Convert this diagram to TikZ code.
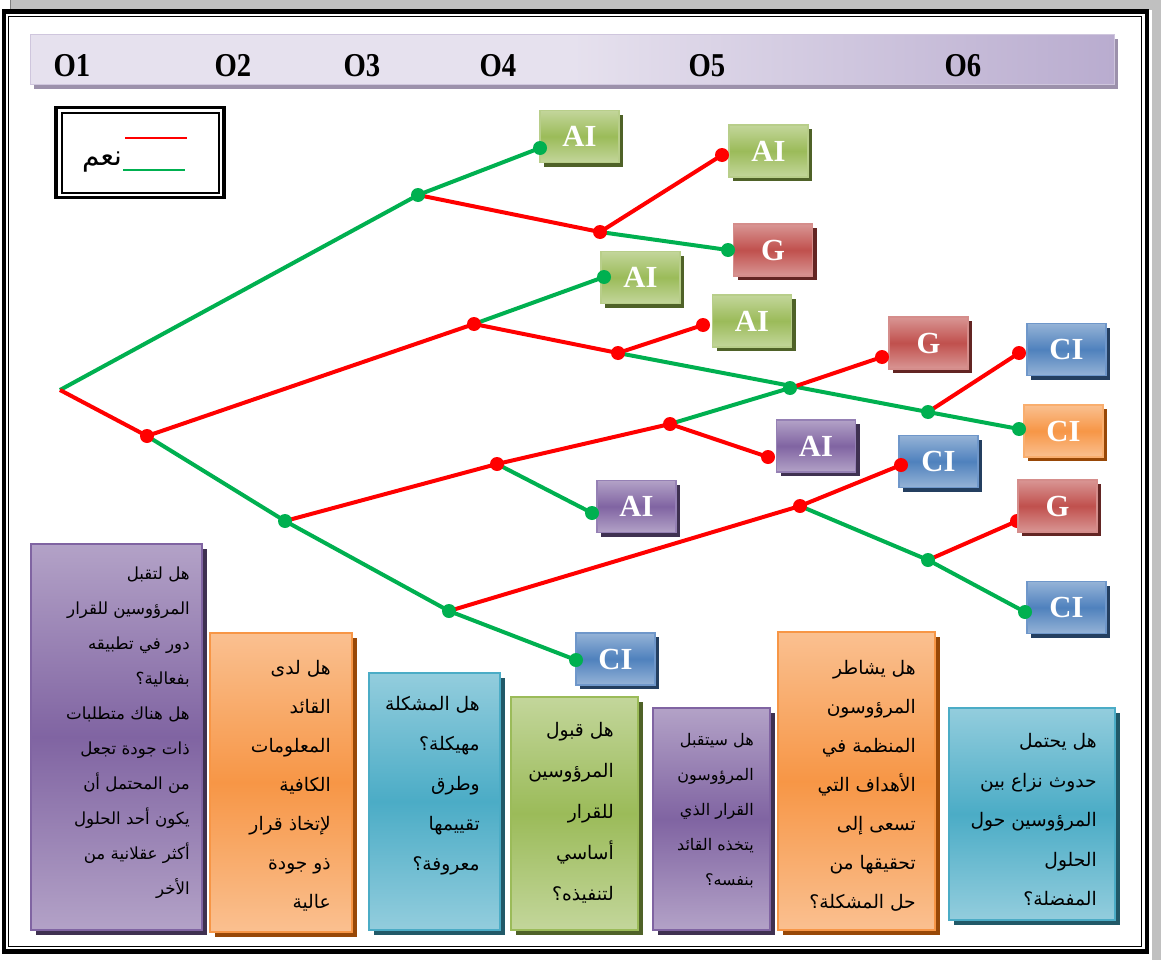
\documentclass[tikz,border=0pt]{standalone}
\usepackage{fontspec}
\setmainfont{Liberation Serif}
\newfontfamily\arabicfont[Script=Arabic]{DejaVu Sans}
\TeXXeTstate=1
\usetikzlibrary{shadows}

% one right-to-left line of a question box
\newcommand\rtlline[1]{\strut\beginR #1\endR}

\definecolor{lgT}{HTML}{C3D69B}\definecolor{lgM}{HTML}{9BBB59}\definecolor{lgB}{HTML}{B8CE8A}\definecolor{lgS}{HTML}{4F6228}
\definecolor{rdT}{HTML}{D99694}\definecolor{rdM}{HTML}{C0504D}\definecolor{rdB}{HTML}{D58D8B}\definecolor{rdS}{HTML}{632523}
\definecolor{blT}{HTML}{95B3D7}\definecolor{blM}{HTML}{4F81BD}\definecolor{blB}{HTML}{6F97CA}\definecolor{blS}{HTML}{243F60}
\definecolor{orT}{HTML}{FAC090}\definecolor{orM}{HTML}{F79646}\definecolor{orB}{HTML}{F9AE6E}\definecolor{orS}{HTML}{984807}
\definecolor{puT}{HTML}{B3A2C7}\definecolor{puM}{HTML}{8064A2}\definecolor{puB}{HTML}{9580B4}\definecolor{puS}{HTML}{3F3151}
\definecolor{aqT}{HTML}{93CDDD}\definecolor{aqM}{HTML}{4BACC6}\definecolor{aqS}{HTML}{215968}
\definecolor{noRed}{HTML}{FF0000}\definecolor{yesGreen}{HTML}{00B050}
\definecolor{barA}{HTML}{E6E1EE}\definecolor{barB}{HTML}{B9ACCF}\definecolor{barS}{HTML}{9C91AB}\definecolor{barE}{HTML}{CFC6DD}
\definecolor{pageGray}{HTML}{C0C0C0}

\begin{document}
\begin{tikzpicture}[x=0.75pt,y=-0.75pt,
  leaf/.style={rectangle, inner sep=0pt, minimum width=59.25pt, minimum height=39pt,
    line width=1.1pt, text=white, font=\fontsize{23}{23}\selectfont\bfseries},
  leafgreen/.style={leaf, draw=lgB, top color=lgT, bottom color=lgT, middle color=lgM,
    general shadow={fill=lgS, shadow xshift=3pt, shadow yshift=-3pt}},
  leafred/.style={leaf, draw=rdB, top color=rdT, bottom color=rdT, middle color=rdM,
    general shadow={fill=rdS, shadow xshift=3pt, shadow yshift=-3pt}},
  leafblue/.style={leaf, draw=blB, top color=blT, bottom color=blT, middle color=blM,
    general shadow={fill=blS, shadow xshift=3pt, shadow yshift=-3pt}},
  leaforange/.style={leaf, draw=orB, top color=orT, bottom color=orT, middle color=orM,
    general shadow={fill=orS, shadow xshift=3pt, shadow yshift=-3pt}},
  leafpurple/.style={leaf, draw=puB, top color=puT, bottom color=puT, middle color=puM,
    general shadow={fill=puS, shadow xshift=3pt, shadow yshift=-3pt}},
  qbox/.style={rectangle, inner sep=0pt, line width=1.5pt},
  qpurple/.style={qbox, draw=puM, top color=puT, bottom color=puT, middle color=puM,
    general shadow={fill=puS, shadow xshift=3.5pt, shadow yshift=-3.5pt}},
  qorange/.style={qbox, draw=orM, top color=orT, bottom color=orT, middle color=orM,
    general shadow={fill=orS, shadow xshift=3.5pt, shadow yshift=-3.5pt}},
  qaqua/.style={qbox, draw=aqM, top color=aqT, bottom color=aqT, middle color=aqM,
    general shadow={fill=aqS, shadow xshift=3.5pt, shadow yshift=-3.5pt}},
  qgreen/.style={qbox, draw=lgM, top color=lgT, bottom color=lgT, middle color=lgM,
    general shadow={fill=lgS, shadow xshift=3.5pt, shadow yshift=-3.5pt}},
  qtext/.style={anchor=north east, inner sep=0pt, align=right, text=black},
  hdr/.style={inner sep=0pt, font=\fontsize{25}{25}\selectfont\bfseries},
  noline/.style={draw=noRed, line width=3pt},
  yesline/.style={draw=yesGreen, line width=3pt},
  nodot/.style={circle, fill=noRed, inner sep=0pt, minimum size=10.5pt},
  yesdot/.style={circle, fill=yesGreen, inner sep=0pt, minimum size=10.5pt}]

\useasboundingbox (0,0) rectangle (1161,960);

% page surround
\fill[pageGray] (10,0) rectangle (1161,10);
\fill[pageGray] (1152,0) rectangle (1161,960);
\draw[gray, line width=0.75pt] (10,0) -- (10,10);

% page border: thick outer line, thin inner line
\draw[line width=3.6pt] (4,11.5) rectangle (1147,951.5);
\draw[line width=0.8pt] (8.5,16.5) rectangle (1141.5,946.5);

% header bar with the question labels
\node[rectangle, inner sep=0pt, minimum width=813pt, minimum height=37.5pt,
  draw=barE, line width=0.6pt, left color=barA, right color=barB, middle color=barA,
  general shadow={fill=barS, shadow xshift=3pt, shadow yshift=-4pt}] (bar) at (572,59) {};
\node[hdr] (h1) at (72,66) {\scalebox{0.86}[1]{O1}};
\node[hdr] (h2) at (233,66) {\scalebox{0.86}[1]{O2}};
\node[hdr] (h3) at (362,66) {\scalebox{0.86}[1]{O3}};
\node[hdr] (h4) at (498,66) {\scalebox{0.86}[1]{O4}};
\node[hdr] (h5) at (707,66) {\scalebox{0.86}[1]{O5}};
\node[hdr] (h6) at (963,66) {\scalebox{0.86}[1]{O6}};

% legend
\node[rectangle, draw, line width=2.4pt, minimum width=126pt, minimum height=68pt, inner sep=0pt] (leg) at (140,152.5) {};
\node[rectangle, draw, line width=1.1pt, minimum width=117.75pt, minimum height=60pt, inner sep=0pt] (leginner) at (140.5,153) {};
\coordinate (lrA) at (125,138); \coordinate (lrB) at (187,138);
\coordinate (lgA) at (123,170); \coordinate (lgB) at (185,170);
\draw[noline, line width=2.2pt] (lrA) -- (lrB);
\draw[yesline, line width=2.2pt] (lgA) -- (lgB);
\node[inner sep=0pt, font=\arabicfont\fontsize{21}{21}\selectfont] (yeslbl) at (102,162) {\beginR نعم\endR};

% decision points of the tree
\coordinate (root) at (60,390);
\coordinate (d1) at (418,195);
\coordinate (d2) at (147,436);
\coordinate (d3) at (600,232);
\coordinate (d4) at (474,324);
\coordinate (d5) at (618,353);
\coordinate (d6) at (285,521);
\coordinate (d7) at (497,464);
\coordinate (d8) at (670,424);
\coordinate (d9) at (790,388);
\coordinate (d10) at (928,412);
\coordinate (d11) at (449,611);
\coordinate (d12) at (800,506);
\coordinate (d13) at (928,560);
% end points at the outcome boxes
\coordinate (eAIa) at (540,148);
\coordinate (eAIb) at (722,155);
\coordinate (eGa) at (728,250);
\coordinate (eAIc) at (604,277);
\coordinate (eAId) at (703,325);
\coordinate (eGb) at (882,357);
\coordinate (eCIa) at (1019,353);
\coordinate (eCIb) at (1019,429);
\coordinate (eAIe) at (768,457);
\coordinate (eAIf) at (592,513);
\coordinate (eCIc) at (901,465);
\coordinate (eGc) at (1017,521);
\coordinate (eCId) at (1025,612);
\coordinate (eCIe) at (576,660);

% branches: green = yes, red = no
\draw[yesline] (root) -- (d1);
\draw[noline] (root) -- (d2);
\draw[yesline] (d1) -- (eAIa);
\draw[noline] (d1) -- (d3);
\draw[noline] (d3) -- (eAIb);
\draw[yesline] (d3) -- (eGa);
\draw[noline] (d2) -- (d4);
\draw[yesline] (d2) -- (d6);
\draw[yesline] (d4) -- (eAIc);
\draw[noline] (d4) -- (d5);
\draw[noline] (d5) -- (eAId);
\draw[yesline] (d5) -- (d10);
\draw[noline] (d6) -- (d7);
\draw[yesline] (d6) -- (d11);
\draw[noline] (d7) -- (d8);
\draw[yesline] (d7) -- (eAIf);
\draw[yesline] (d8) -- (d9);
\draw[noline] (d8) -- (eAIe);
\draw[noline] (d9) -- (eGb);
\draw[noline] (d10) -- (eCIa);
\draw[yesline] (d10) -- (eCIb);
\draw[noline] (d11) -- (d12);
\draw[yesline] (d11) -- (eCIe);
\draw[noline] (d12) -- (eCIc);
\draw[yesline] (d12) -- (d13);
\draw[noline] (d13) -- (eGc);
\draw[yesline] (d13) -- (eCId);

% this end dot sits behind its box
\node[nodot] (pGc) at (eGc) {};

% outcome boxes
\node[leafgreen] (AIa) at (579.5,136.5) {AI};
\node[leafgreen] (AIb) at (768.5,151) {AI};
\node[leafred] (Ga) at (773,250) {G};
\node[leafgreen] (AIc) at (640.5,277.5) {AI};
\node[leafgreen] (AId) at (752,321) {AI};
\node[leafred] (Gb) at (928.5,343) {G};
\node[leafblue] (CIa) at (1066.5,349.5) {CI};
\node[leaforange] (CIb) at (1063.5,431) {CI};
\node[leafpurple] (AIe) at (816,446) {AI};
\node[leafblue] (CIc) at (938.5,461.5) {CI};
\node[leafpurple] (AIf) at (636.5,506.5) {AI};
\node[leafred] (Gc) at (1057.5,506) {G};
\node[leafblue] (CId) at (1066.5,607.5) {CI};
\node[leafblue] (CIe) at (615.5,659) {CI};

% dots
\foreach \p in {d2,d3,d4,d5,d7,d8,d12,eAIb,eAId,eGb,eCIa,eAIe,eCIc}
  \node[nodot] (p\p) at (\p) {};
\foreach \p in {d1,d6,d9,d10,d11,d13,eAIa,eGa,eAIc,eCIb,eAIf,eCId,eCIe}
  \node[yesdot] (p\p) at (\p) {};

% question boxes
\node[qpurple, minimum width=128.25pt, minimum height=289.5pt] (q1) at (116.5,737) {};
\node[qorange, minimum width=106.5pt, minimum height=224.25pt] (q2) at (281,782.5) {};
\node[qaqua, minimum width=98.25pt, minimum height=192.75pt] (q3) at (434.5,801.5) {};
\node[qgreen, minimum width=95.25pt, minimum height=174.75pt] (q4) at (574.5,813.5) {};
\node[qpurple, minimum width=87.75pt, minimum height=166.5pt] (q5) at (711.5,819) {};
\node[qorange, minimum width=117.75pt, minimum height=223.5pt] (q6) at (856.5,781) {};
\node[qaqua, minimum width=124.5pt, minimum height=159pt] (q7) at (1032,814) {};

\node[qtext, font=\arabicfont\fontsize{12.5}{26.25}\selectfont] (t1) at (190,555) {%
\rtlline{هل لتقبل}\\\rtlline{المرؤوسين للقرار}\\\rtlline{دور في تطبيقه}\\\rtlline{بفعالية؟}\\%
\rtlline{هل هناك متطلبات}\\\rtlline{ذات جودة تجعل}\\\rtlline{من المحتمل أن}\\%
\rtlline{يكون أحد الحلول}\\\rtlline{أكثر عقلانية من}\\\rtlline{الأخر}};
\node[qtext, font=\arabicfont\fontsize{14}{29.25}\selectfont] (t2) at (331,647) {%
\rtlline{هل لدى}\\\rtlline{القائد}\\\rtlline{المعلومات}\\\rtlline{الكافية}\\%
\rtlline{لإتخاذ قرار}\\\rtlline{ذو جودة}\\\rtlline{عالية}};
\node[qtext, font=\arabicfont\fontsize{14}{30}\selectfont] (t3) at (480,682) {%
\rtlline{هل المشكلة}\\\rtlline{مهيكلة؟}\\\rtlline{وطرق}\\\rtlline{تقييمها}\\\rtlline{معروفة؟}};
\node[qtext, font=\arabicfont\fontsize{14}{30.75}\selectfont] (t4) at (614,708) {%
\rtlline{هل قبول}\\\rtlline{المرؤوسين}\\\rtlline{للقرار}\\\rtlline{أساسي}\\\rtlline{لتنفيذه؟}};
\node[qtext, font=\arabicfont\fontsize{12}{26.25}\selectfont] (t5) at (754,721) {%
\rtlline{هل سيتقبل}\\\rtlline{المرؤوسون}\\\rtlline{القرار الذي}\\\rtlline{يتخذه القائد}\\\rtlline{بنفسه؟}};
\node[qtext, font=\arabicfont\fontsize{14}{29.25}\selectfont] (t6) at (916,647) {%
\rtlline{هل يشاطر}\\\rtlline{المرؤوسون}\\\rtlline{المنظمة في}\\\rtlline{الأهداف التي}\\%
\rtlline{تسعى إلى}\\\rtlline{تحقيقها من}\\\rtlline{حل المشكلة؟}};
\node[qtext, font=\arabicfont\fontsize{14}{29.6}\selectfont] (t7) at (1097,720) {%
\rtlline{هل يحتمل}\\\rtlline{حدوث نزاع بين}\\\rtlline{المرؤوسين حول}\\\rtlline{الحلول}\\\rtlline{المفضلة؟}};

\end{tikzpicture}
\end{document}
